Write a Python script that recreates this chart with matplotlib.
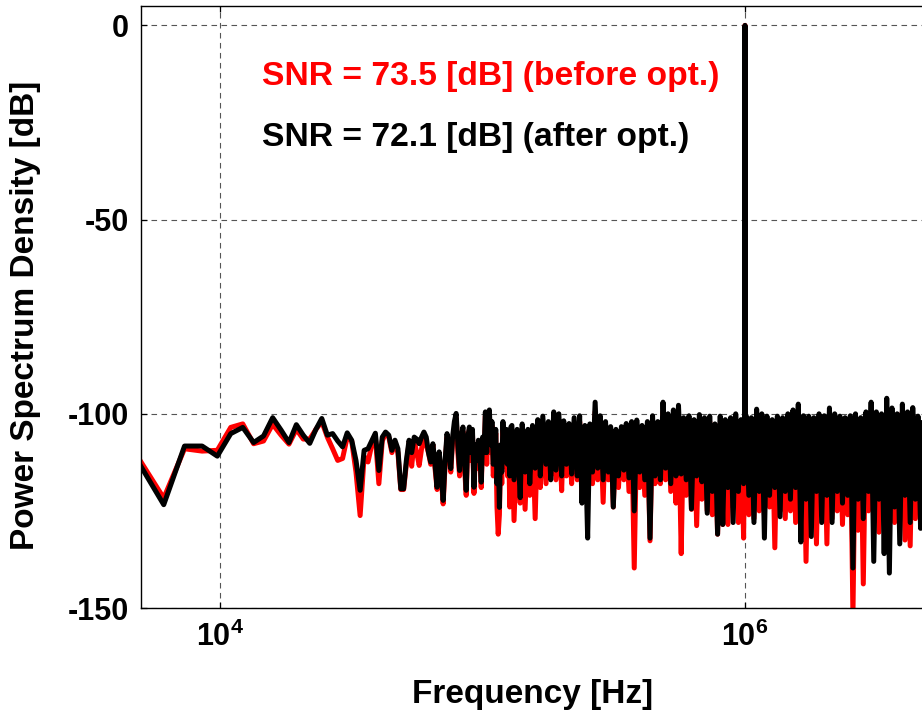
import numpy as np
import matplotlib
matplotlib.use('Agg')
import matplotlib.pyplot as plt
from matplotlib.ticker import NullLocator

plt.rcParams['font.family'] = ['Liberation Sans', 'DejaVu Sans']
plt.rcParams['font.weight'] = 'bold'
plt.rcParams['mathtext.fontset'] = 'custom'
plt.rcParams['mathtext.rm'] = 'Liberation Sans:bold'
plt.rcParams['mathtext.bf'] = 'Liberation Sans:bold'

# FFT grid
FS = 40e6
NFFT = 32768
DF = FS / NFFT

# ---- low-frequency bins (every bin, k = 4 .. 105) ----
bins_low = list(range(4, 106))
black_low = [
    -112.4, -123.4, -108.3, -108.3, -110.9, -105.1, -103.5, -107.4, -105.7, -101.0,
    -104.2, -107.4, -102.8, -105.5, -107.6, -104.0, -101.2, -105.5, -105.1, -107.0,
    -108.5, -104.9, -106.8, -112.0, -119.7, -109.4, -109.0, -107.0, -105.0, -114.6,
    -106.0, -104.7, -105.5, -109.4, -106.8, -109.0, -119.3, -119.3, -112.0, -106.8,
    -110.0, -106.0, -106.5, -107.7, -106.0, -104.7, -106.0, -110.0, -112.4, -107.7,
    -113.0, -118.9, -109.8, -115.0, -122.3, -112.0, -105.1, -109.0, -114.1, -106.0,
    -102.0, -99.9, -108.0, -114.6, -106.0, -103.4, -112.0, -119.7, -106.0, -103.4,
    -110.0, -104.0, -118.9, -108.0, -112.0, -106.8, -111.0, -117.6, -106.0, -110.0,
    -99.5, -110.0, -101.0, -99.0, -108.0, -102.0, -113.0, -111.1, -104.0, -118.0,
    -110.0, -124.1, -108.0, -115.0, -102.0, -109.0, -112.4, -104.0, -113.0, -105.0,
    -116.0, -103.4,
]
red_low = [
    -111.3, -121.7, -109.0, -109.6, -109.4, -103.5, -102.6, -107.7, -107.0, -102.7,
    -105.5, -107.8, -104.0, -106.5, -106.5, -104.0, -102.0, -106.0, -109.0, -112.0,
    -111.5, -106.0, -107.0, -115.0, -126.2, -111.0, -112.4, -108.0, -106.0, -118.0,
    -107.0, -105.0, -106.0, -110.0, -107.5, -110.0, -119.5, -119.5, -113.0, -107.5,
    -113.5, -107.0, -110.0, -113.3, -109.0, -106.0, -108.0, -110.0, -113.0, -108.0,
    -114.0, -119.5, -110.5, -116.0, -123.2, -113.0, -106.0, -110.0, -115.0, -107.0,
    -104.0, -101.0, -110.0, -116.0, -107.0, -104.5, -114.0, -121.0, -107.0, -104.0,
    -112.0, -105.0, -120.5, -109.0, -114.0, -108.0, -112.0, -119.0, -107.0, -112.0,
    -100.5, -113.0, -102.0, -100.0, -110.0, -103.0, -116.0, -113.0, -105.0, -124.0,
    -131.0, -126.0, -110.0, -118.0, -103.0, -111.0, -113.5, -105.0, -116.0, -106.0,
    -124.0, -105.0,
]

# ---- dense region: bins from 106 to 4000, read as (upper, lower) pairs ----
black_hi = [
    -103.0, -104.0, -102.6, -104.0, -103.0, -101.5, -100.6, -102.0, -99.5, -100.0,
    -101.8, -102.5, -101.0, -100.5, -103.0, -102.6, -97.0, -100.5, -102.0, -103.3,
    -104.0, -103.3, -102.5, -102.0, -101.6, -103.0, -102.0, -100.5, -102.0, -97.0,
    -100.0, -99.0, -97.8, -101.0, -100.5, -101.5, -100.2, -101.0, -100.6, -102.6,
    -100.6, -101.5, -101.0, -100.0, -101.5, -100.5, -101.0, -98.8, -100.0, -100.6,
    -101.5, -100.6, -101.0, -100.0, -99.0, -97.5, -100.5, -100.6, -101.0, -100.0,
    -100.5, -98.5, -100.0, -100.6, -101.0, -100.5, -100.0, -101.0, -99.5, -97.0,
    -99.5, -100.0, -96.0, -98.5, -100.0, -97.5, -99.5, -98.4, -100.6, -100.0,
]
black_lo = [
    -117.0, -121.6, -115.0, -118.0, -114.0, -116.0, -113.0, -117.0, -114.5, -116.0,
    -113.0, -115.5, -116.0, -123.0, -132.0, -115.0, -114.0, -117.0, -115.0, -124.0,
    -116.0, -114.5, -116.5, -125.0, -115.0, -117.0, -132.0, -116.0, -117.0, -114.0,
    -118.0, -116.0, -115.5, -117.0, -124.5, -116.0, -117.5, -125.6, -120.0, -131.0,
    -128.5, -119.0, -128.0, -120.0, -118.0, -121.0, -128.0, -120.0, -132.0, -121.0,
    -119.0, -126.5, -120.0, -122.0, -119.0, -133.0, -122.0, -131.6, -120.0, -128.0,
    -121.0, -128.0, -120.0, -123.0, -121.0, -139.7, -122.0, -127.0, -120.0, -138.0,
    -122.0, -136.0, -141.0, -124.0, -133.5, -121.0, -128.0, -122.0, -129.5, -121.0,
]
red_hi = [
    -104.5, -105.0, -104.0, -105.5, -104.0, -103.0, -102.5, -103.5, -101.5, -102.0,
    -103.0, -104.0, -102.5, -102.0, -104.5, -104.0, -99.5, -102.0, -103.5, -104.5,
    -105.0, -104.5, -104.0, -103.5, -103.0, -104.5, -103.5, -102.0, -103.5, -99.5,
    -102.0, -101.0, -100.0, -102.5, -102.0, -103.0, -102.0, -102.5, -102.0, -104.0,
    -102.5, -103.0, -102.5, -101.5, -103.0, -102.0, -102.5, -101.0, -101.5, -102.0,
    -103.0, -102.0, -102.5, -101.5, -101.0, -100.0, -101.5, -102.0, -102.5, -101.5,
    -102.0, -100.5, -101.5, -102.0, -102.5, -102.0, -101.5, -102.5, -101.0, -99.5,
    -101.0, -101.5, -99.0, -100.5, -101.5, -99.5, -101.0, -100.5, -102.0, -101.5,
]
red_lo = [
    -127.5, -123.0, -124.6, -121.0, -127.0, -119.0, -118.0, -116.0, -117.0, -119.8,
    -116.0, -118.0, -117.0, -121.0, -119.0, -118.0, -117.0, -122.8, -117.0, -124.0,
    -119.0, -117.0, -120.0, -139.7, -119.0, -121.0, -132.7, -118.0, -118.0, -117.0,
    -120.0, -123.0, -136.0, -121.0, -124.6, -128.8, -122.0, -125.0, -126.0, -131.0,
    -128.5, -128.5, -124.0, -128.0, -132.0, -126.0, -127.0, -125.0, -126.0, -124.0,
    -134.5, -125.0, -127.0, -125.0, -128.0, -126.0, -138.0, -127.0, -133.5, -126.0,
    -133.5, -127.0, -125.0, -128.5, -126.0, -152.0, -130.0, -143.8, -125.0, -128.0,
    -130.5, -127.0, -126.0, -128.0, -126.0, -132.5, -134.0, -127.0, -126.0, -128.0,
]

# ---- signal tone at 1 MHz ----
peak_bins = [818, 819, 820]
black_peak = [-101.0, 0.0, -102.0]
red_peak = [-103.0, 0.0, -104.0]

snr_before = 73.5
snr_after = 72.1


def assemble(low, hi, lo, peak):
    dense_bins = np.round(np.geomspace(106, 4000, 2 * len(hi))).astype(int)
    dense_vals = np.column_stack([hi, lo]).ravel()
    k = np.concatenate([bins_low, dense_bins, peak_bins])
    v = np.concatenate([low, dense_vals, peak])
    order = np.argsort(k, kind='stable')
    return k[order] * DF, v[order]


f_r, p_r = assemble(red_low, red_hi, red_lo, red_peak)
f_b, p_b = assemble(black_low, black_hi, black_lo, black_peak)

W, H = 922, 710
fig = plt.figure(figsize=(W / 100, H / 100), dpi=100)
ax = fig.add_axes([141 / W, 1 - 608 / H, (928.5 - 141) / W, (608 - 6) / H])

ax.semilogx(f_r, p_r, color='#ff0000', lw=3.6, solid_joinstyle='round')
ax.semilogx(f_b, p_b, color='black', lw=3.6, solid_joinstyle='round')

ax.set_xlim(5e3, 5e6)
ax.set_ylim(-150, 5)
ax.set_xticks([1e4, 1e6])
ax.set_xticklabels([r'$\mathbf{10^{4}}$', r'$\mathbf{10^{6}}$'])
ax.xaxis.set_minor_locator(NullLocator())
ax.set_yticks([-150, -100, -50, 0])
ax.set_yticklabels(['-150', '-100', '-50', '0'])

ax.tick_params(axis='both', which='major', direction='in', length=4, width=0.9,
               labelsize=22, top=True, right=True)
ax.tick_params(axis='y', pad=9)
ax.tick_params(axis='x', pad=10)
for lab in ax.get_xticklabels() + ax.get_yticklabels():
    lab.set_fontweight('bold')

ax.set_axisbelow(True)
ax.grid(True, which='major', linestyle=(0, (5, 4)), color='#555555', lw=0.8)
for s in ax.spines.values():
    s.set_linewidth(1.0)

ax.text(14454, -15.4, f'SNR = {snr_before} [dB] (before opt.)', color='#ff0000',
        fontsize=24.2, fontweight='bold', ha='left', va='baseline')
ax.text(14454, -31.0, f'SNR = {snr_after} [dB] (after opt.)', color='black',
        fontsize=24.2, fontweight='bold', ha='left', va='baseline')

fig.text(533 / W, 1 - 694 / H, 'Frequency [Hz]', fontsize=24, fontweight='bold',
         ha='center', va='center')
fig.text(26 / W, 1 - 315 / H, 'Power Spectrum Density [dB]', fontsize=24,
         fontweight='bold', rotation=90, ha='center', va='center')

fig.savefig('out.png', dpi=100)
